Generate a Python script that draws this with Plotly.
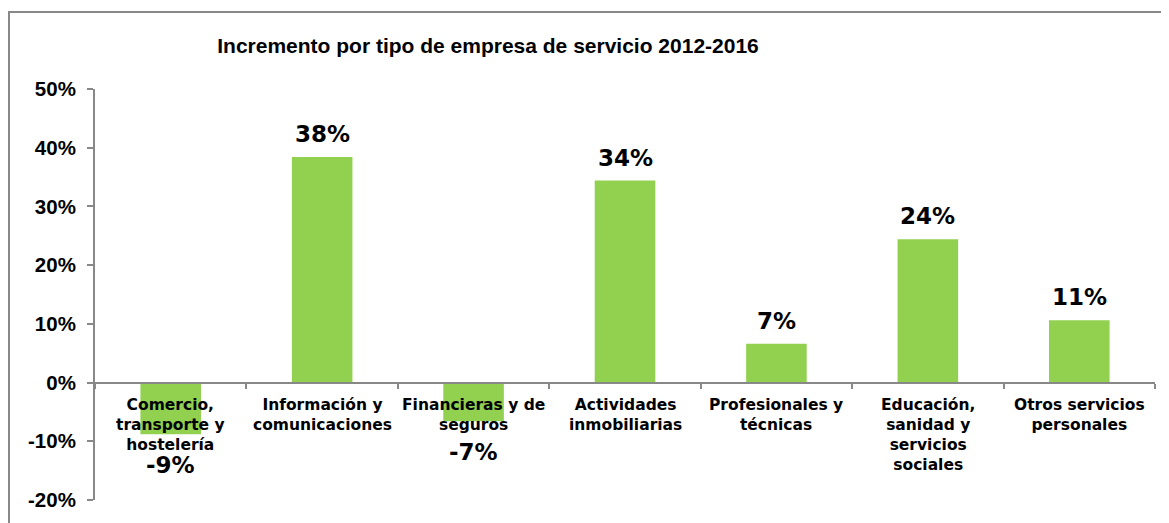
import plotly.graph_objects as go

categories = ["Comercio,<br>transporte y<br>hostelería",
              "Información y<br>comunicaciones",
              "Financieras y de<br>seguros",
              "Actividades<br>inmobiliarias",
              "Profesionales y<br>técnicas",
              "Educación,<br>sanidad y<br>servicios<br>sociales",
              "Otros servicios<br>personales"]
values = [-8.8, 38.4, -6.6, 34.4, 6.6, 24.4, 10.6]
labels = ["-9%", "38%", "-7%", "34%", "7%", "24%", "11%"]
y_ticks = [-20, -10, 0, 10, 20, 30, 40, 50]
y_ticktext = ["-20%", "-10%", "0%", "10%", "20%", "30%", "40%", "50%"]

OFF = 8  # page body margin
W, H = 1169 - OFF, 523 - OFF
L, T = 95 - OFF, 89 - OFF
R = W - (1155 - OFF)
B = H - (500 - OFF)
GREY = "#888888"
ymin, ymax = -20, 50

fig = go.Figure()
fig.add_trace(go.Bar(x=categories, y=values, marker_color="#92D050",
                     marker_line_width=0, width=0.4, hoverinfo="skip"))

annotations = []
for c, v, t in zip(categories, values, labels):
    annotations.append(dict(x=c, y=v, xref="x", yref="y", text=t, showarrow=False,
                            yanchor="middle", yshift=23 if v >= 0 else -31,
                            borderpad=0,
                            font=dict(family="DejaVu Sans", size=23, color="black", weight="bold")))
    annotations.append(dict(x=c, y=0, xref="x", yref="y", text=c, showarrow=False,
                            yanchor="top", yshift=-12, borderpad=0,
                            font=dict(family="DejaVu Sans", size=15.5, color="black", weight="bold")))

pw = W - L - R
ph = H - T - B
fx0 = (9 - OFF - L) / pw
fy1 = 1 + (T - (12 - OFF)) / ph

fig.update_layout(
    width=W, height=H,
    margin=dict(l=L, r=R, t=T, b=B),
    paper_bgcolor="white", plot_bgcolor="white",
    showlegend=False,
    title=dict(text="<b>Incremento por tipo de empresa de servicio 2012-2016</b>",
               x=(488 - OFF) / W, xanchor="center", xref="container",
               y=1 - (46 - OFF) / H, yanchor="middle", yref="container",
               font=dict(family="Liberation Sans", size=21, color="black")),
    xaxis=dict(type="category", anchor="free", position=(0 - ymin) / (ymax - ymin),
               showline=True, linecolor=GREY, linewidth=2,
               ticks="outside", tickson="boundaries", ticklen=5, tickcolor=GREY, tickwidth=2,
               showticklabels=False, showgrid=False, zeroline=False,
               range=[-0.5, len(categories) - 0.5]),
    yaxis=dict(range=[ymin, ymax], tickvals=y_ticks, ticktext=y_ticktext,
               showline=True, linecolor=GREY, linewidth=2,
               ticks="outside", ticklen=6, tickcolor=GREY, tickwidth=2,
               showgrid=False, zeroline=False, ticklabelstandoff=7,
               tickfont=dict(family="Liberation Sans", size=20.5, color="black", weight="bold")),
    bargap=0.6,
    annotations=annotations,
    shapes=[dict(type="rect", xref="paper", yref="paper", x0=fx0, x1=1.2, y0=-0.2, y1=fy1,
                 line=dict(color=GREY, width=2), fillcolor="rgba(0,0,0,0)", layer="below")],
)

fig.write_html("out.html")
